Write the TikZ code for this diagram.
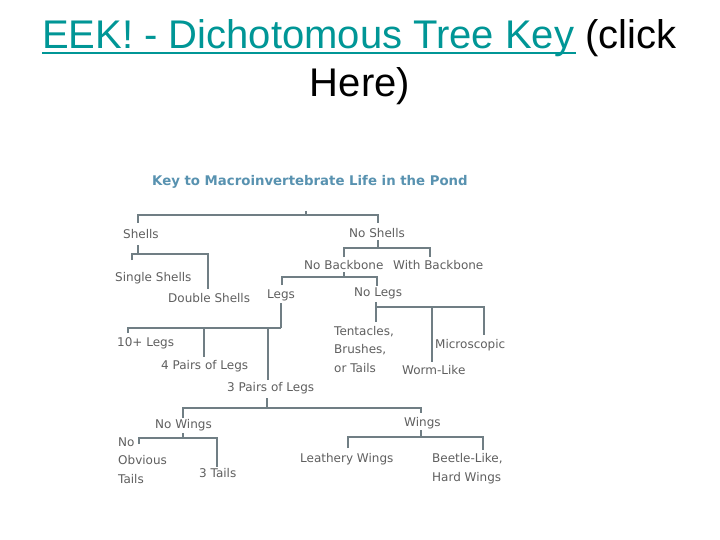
\documentclass[tikz,border=0pt]{standalone}
\usepackage{fontspec}
\setmainfont{Liberation Sans}
\newfontfamily\treefont{DejaVu Sans}
\newfontfamily\headfont{DejaVu Sans}
\definecolor{linkteal}{RGB}{0,150,150}
\definecolor{treeline}{RGB}{112,126,132}
\definecolor{treetext}{RGB}{95,95,95}
\definecolor{headblue}{RGB}{88,146,176}
\begin{document}
\begin{tikzpicture}[x=1pt,y=-1pt,
  lbl/.style={anchor=base west,inner sep=0pt,text=treetext,font=\treefont\fontsize{12}{18.5}\selectfont,align=left},
  tree/.style={draw=treeline,line width=2.6pt,line join=miter}]
\useasboundingbox[fill=white] (0,0) rectangle (720,540);
% title
\node[anchor=base west,inner sep=0pt,font=\fontsize{40}{48}\selectfont] (t1) at (42,49)
  {\textcolor{linkteal}{EEK! - Dichotomous Tree Key} (click};
\node[anchor=base,inner sep=0pt,font=\fontsize{40}{48}\selectfont] (t2) at (360,97) {Here)};
\coordinate (ul1) at (42,53);
\coordinate (ul2) at (575.5,53);
\draw[linkteal,line width=2.4pt] (ul1) -- (ul2);
% heading
\node[anchor=base west,inner sep=0pt,text=headblue,font=\headfont\bfseries\fontsize{13.3}{15}\selectfont] (head) at (152,186)
  {Key to Macroinvertebrate Life in the Pond};
% labels (base = last line)
\node[lbl] (shells) at (123,238) {Shells};
\node[lbl] (noshells) at (349,237) {No Shells};
\node[lbl] (single) at (115,281) {Single Shells};
\node[lbl] (double) at (168,302) {Double Shells};
\node[lbl] (nobb) at (304,269) {No Backbone};
\node[lbl] (withbb) at (393,269) {With Backbone};
\node[lbl] (legs) at (267,298) {Legs};
\node[lbl] (nolegs) at (354,296) {No Legs};
\node[lbl] (tenplus) at (117,346) {10+ Legs};
\node[lbl] (four) at (161,369) {4 Pairs of Legs};
\node[lbl] (three) at (227,391) {3 Pairs of Legs};
\node[lbl] (tent) at (334,372) {Tentacles,\\Brushes,\\or Tails};
\node[lbl] (micro) at (435,348) {Microscopic};
\node[lbl] (worm) at (402,374) {Worm-Like};
\node[lbl] (nowings) at (155,428) {No Wings};
\node[lbl] (wings) at (404,426) {Wings};
\node[lbl] (notails) at (118,483) {No\\Obvious\\Tails};
\node[lbl] (threetails) at (199,477) {3 Tails};
\node[lbl] (leathery) at (300,462) {Leathery Wings};
\node[lbl] (beetle) at (432,481) {Beetle-Like,\\Hard Wings};
% connectors
\draw[tree] (306,211) -- (306,215);
\draw[tree] (138,223) |- (378,215) -- (378,223);
\draw[tree] (138,245) -- (138,254);
\draw[tree] (132,260) |- (208,254) -- (208,289);
\draw[tree] (378,240) -- (378,248);
\draw[tree] (344,257) |- (430,248) -- (430,257);
\draw[tree] (344,272) -- (344,277);
\draw[tree] (282,285) |- (377,277) -- (377,286);
\draw[tree] (281,303) -- (281,328);
\draw[tree] (128,333) |- (281,328);
\draw[tree] (204,328) -- (204,357);
\draw[tree] (268,328) -- (268,380);
\draw[tree] (376,302) -- (376,322);
\draw[tree] (376,307) -| (484,335);
\draw[tree] (432,307) -- (432,362);
\draw[tree] (267,398) -- (267,408);
\draw[tree] (183,418) |- (421,408) -- (421,413);
\draw[tree] (421,430) -- (421,437);
\draw[tree] (348,448) |- (483,437) -- (483,450);
\draw[tree] (183,433) -- (183,438);
\draw[tree] (139,444) |- (217,438) -- (217,467);
\end{tikzpicture}
\end{document}
